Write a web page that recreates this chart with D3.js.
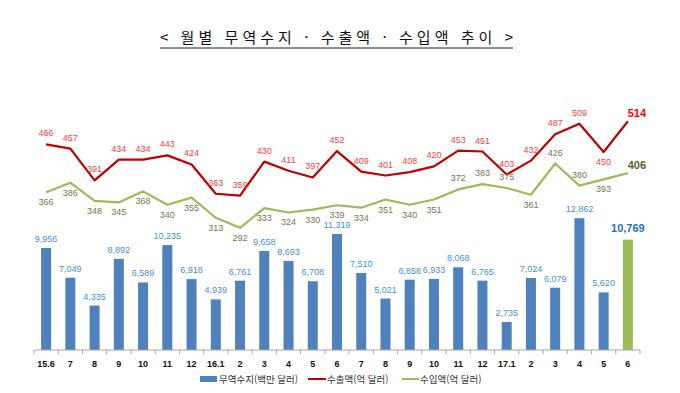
<!DOCTYPE html>
<html lang="ko">
<head>
<meta charset="utf-8">
<script src="https://d3js.org/d3.v7.min.js"></script>
<style>
  body { margin: 0; background: #fff; }
  svg text { font-family: "Liberation Sans", "Noto Sans CJK KR", sans-serif; }
  .kr { font-family: "Noto Sans CJK KR", sans-serif; }
</style>
</head>
<body>
<div id="chart"></div>
<script>
// 월별 데이터 (15.6 ~ 17.6)
var months = ["15.6","7","8","9","10","11","12","16.1","2","3","4","5","6",
              "7","8","9","10","11","12","17.1","2","3","4","5","6"];
var balance = [9956, 7049, 4335, 8892, 6589, 10235, 6918, 4939, 6761, 9658, 8693, 6708, 11319,
               7510, 5021, 6858, 6933, 8068, 6765, 2735, 7024, 6079, 12862, 5620, 10769];
var exports = [466, 457, 391, 434, 434, 443, 424, 363, 359, 430, 411, 397, 452,
               409, 401, 408, 420, 453, 451, 403, 432, 487, 509, 450, 514];
var imports = [366, 386, 348, 345, 368, 340, 355, 313, 292, 333, 324, 330, 339,
               334, 351, 340, 351, 372, 383, 375, 361, 426, 380, 393, 406];
// label side: a = above, b = below
var exportSide = "aaaaaaaaaaaaaaaaaaaaaaaba";
var importSide = "bbbbbbbbbbbbbbbbbaaabaaba";

var W = 680, H = 393;
var svg = d3.select("#chart").append("svg").attr("width", W).attr("height", H);

// title
svg.append("text")
  .attr("class", "kr")
  .attr("x", 160).attr("y", 43)
  .attr("textLength", 353).attr("lengthAdjust", "spacing")
  .style("font-size", "15px").style("fill", "#111")
  .text("< 월별 무역수지 · 수출액 · 수입액 추이 >");
svg.append("line").attr("x1", 160).attr("x2", 513).attr("y1", 48).attr("y2", 48)
  .attr("stroke", "#222").attr("stroke-width", 1);

var idx = d3.range(months.length);
var x = d3.scalePoint().domain(idx).range([34, 640]).padding(0.5);
var step = x.step();
var yBar = d3.scaleLinear().domain([0, 13000]).range([350, 216.75]);
var yLine = d3.scaleLinear().domain([250, 550]).range([248, 104]);

// bars
svg.selectAll("rect.bar").data(balance).enter().append("rect")
  .attr("class", "bar")
  .attr("x", function (d, i) { return x(i) - 5; })
  .attr("width", 10)
  .attr("y", function (d) { return yBar(d); })
  .attr("height", function (d) { return yBar(0) - yBar(d); })
  .attr("fill", function (d, i) { return i === balance.length - 1 ? "#9bbb59" : "#4f81bd"; });

svg.selectAll("text.blab").data(balance).enter().append("text")
  .attr("class", "blab")
  .attr("x", function (d, i) { return x(i); })
  .attr("y", function (d, i) { return yBar(d) - (i === balance.length - 1 ? 8 : 6); })
  .attr("text-anchor", "middle")
  .style("font-size", function (d, i) { return i === balance.length - 1 ? "11px" : "9px"; })
  .style("font-weight", function (d, i) { return i === balance.length - 1 ? "bold" : "normal"; })
  .style("fill", function (d, i) { return i === balance.length - 1 ? "#1f6fc0" : "#4a90d9"; })
  .text(function (d) { return d3.format(",")(d); });

// axis
svg.append("line").attr("x1", 34).attr("x2", 640).attr("y1", 350).attr("y2", 350)
  .attr("stroke", "#a6a6a6");
svg.selectAll("line.tick").data(d3.range(months.length + 1)).enter().append("line")
  .attr("class", "tick")
  .attr("x1", function (d) { return 34 + d * step; })
  .attr("x2", function (d) { return 34 + d * step; })
  .attr("y1", 350).attr("y2", 354).attr("stroke", "#a6a6a6");
svg.selectAll("text.cat").data(months).enter().append("text")
  .attr("class", "cat")
  .attr("x", function (d, i) { return x(i); })
  .attr("y", 367)
  .attr("text-anchor", "middle")
  .style("font-size", "9px").style("font-weight", "bold").style("fill", "#111")
  .text(function (d) { return d; });

// lines
function drawLine(vals, color) {
  var line = d3.line().x(function (d, i) { return x(i); }).y(function (d) { return yLine(d); });
  svg.append("path").datum(vals).attr("d", line)
    .attr("fill", "none").attr("stroke", color).attr("stroke-width", 2.2)
    .attr("stroke-linejoin", "round");
}
drawLine(exports, "#c00000");
drawLine(imports, "#9bbb59");

function lineLabels(vals, side, color, lastColor, cls) {
  var n = vals.length;
  svg.selectAll("text." + cls).data(vals).enter().append("text")
    .attr("class", cls)
    .attr("x", function (d, i) { return x(i) + (i === n - 1 ? 9 : 0); })
    .attr("y", function (d, i) {
      if (i === n - 1) return yLine(d) - 4;
      return yLine(d) + (side[i] === "a" ? -8 : 13);
    })
    .attr("text-anchor", "middle")
    .style("font-size", function (d, i) { return i === n - 1 ? "11px" : "9px"; })
    .style("font-weight", function (d, i) { return i === n - 1 ? "bold" : "normal"; })
    .style("fill", function (d, i) { return i === n - 1 ? lastColor : color; })
    .text(function (d) { return d; });
}
lineLabels(exports, exportSide, "#ff4040", "#ff0000", "elab");
lineLabels(imports, importSide, "#77784b", "#4f6228", "ilab");

// legend
var lg = svg.append("g").attr("transform", "translate(0,379)");
lg.append("rect").attr("x", 200).attr("y", -3).attr("width", 17).attr("height", 6).attr("fill", "#4f81bd");
lg.append("text").attr("class", "kr").attr("x", 219).attr("y", 3.5)
  .style("font-size", "9.5px").style("fill", "#333").text("무역수지(백만 달러)");
lg.append("line").attr("x1", 308).attr("x2", 326).attr("y1", 0).attr("y2", 0)
  .attr("stroke", "#c00000").attr("stroke-width", 2);
lg.append("text").attr("class", "kr").attr("x", 327).attr("y", 3.5)
  .style("font-size", "9.5px").style("fill", "#333").text("수출액(억 달러)");
lg.append("line").attr("x1", 402).attr("x2", 419).attr("y1", 0).attr("y2", 0)
  .attr("stroke", "#9bbb59").attr("stroke-width", 2);
lg.append("text").attr("class", "kr").attr("x", 420).attr("y", 3.5)
  .style("font-size", "9.5px").style("fill", "#333").text("수입액(억 달러)");
</script>
</body>
</html>
